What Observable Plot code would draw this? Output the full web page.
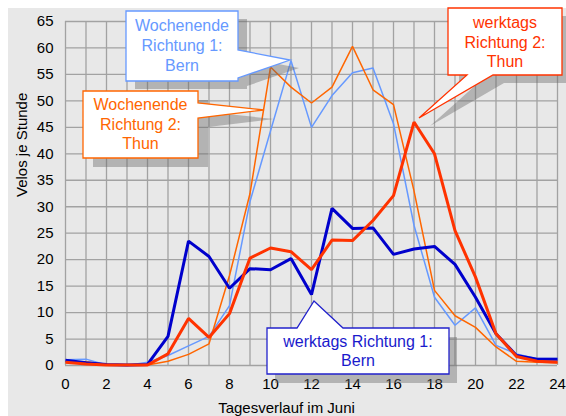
<!DOCTYPE html>
<html>
<head>
<meta charset="utf-8">
<script src="https://cdn.jsdelivr.net/npm/d3@7"></script>
<script src="https://cdn.jsdelivr.net/npm/@observablehq/plot@0.6"></script>
<style>
  html, body { margin: 0; padding: 0; background: #ffffff; }
  #chart { width: 566px; height: 416px; }
</style>
</head>
<body>
<div id="chart"></div>
<script>
// ---- data ----
const hours = [0,1,2,3,4,5,6,7,8,9,10,11,12,13,14,15,16,17,18,19,20,21,22,23,24];
const werktagsBern    = [1.0,0.5,0.2,0.1,0.2,5.5,23.5,20.6,14.6,18.3,18.1,20.2,13.4,29.7,25.9,26.0,21.0,22.0,22.5,19.1,12.9,6.0,1.9,1.2,1.2];
const werktagsThun    = [0.6,0.3,0.1,0.1,0.1,2.2,8.9,5.3,9.8,20.3,22.2,21.5,18.1,23.7,23.6,27.4,32.1,46.0,40.0,25.5,16.7,6.0,1.7,0.8,0.6];
const wochenendeBern  = [1.1,1.2,0.1,0.0,0.6,1.9,3.7,5.5,11.3,31.0,44.3,57.6,45.0,51.0,55.3,56.2,45.7,26.5,12.9,7.6,10.9,3.8,2.2,1.3,1.3];
const wochenendeThun  = [0.6,0.7,0.2,0.1,0.1,0.8,2.1,4.1,17.0,32.5,56.4,52.6,49.6,52.6,60.3,52.1,49.3,33.0,14.2,9.4,7.2,3.5,0.8,0.6,0.5];
const xTicks = [0,2,4,6,8,10,12,14,16,18,20,22,24];
const yTicks = [0,5,10,15,20,25,30,35,40,45,50,55,60,65];
const xTitle = "Tagesverlauf im Juni";
const yTitle = "Velos je Stunde";

// ---- styles ----
const FONT = "'Liberation Sans', Arial, Helvetica, sans-serif";
const seriesStyles = [
  {values: wochenendeBern, stroke: "#6699ff", width: 1.5},
  {values: wochenendeThun, stroke: "#ff6600", width: 1.5},
  {values: werktagsBern,   stroke: "#0000cc", width: 3},
  {values: werktagsThun,   stroke: "#ff3300", width: 3}
];
const toRows = (arr) => hours.map((h, i) => ({hour: h, value: arr[i]}));

const plot = Plot.plot({
  width: 566,
  height: 416,
  marginLeft: 65,
  marginRight: 9,
  marginTop: 21,
  marginBottom: 51,
  style: `background: linear-gradient(#fff,#fff) top left / 100% 8px no-repeat, linear-gradient(#fff,#fff) top left / 8px 100% no-repeat, #e8e8e8; font-family: ${FONT}; font-size: 15px; color: #000; overflow: visible;`,
  x: {domain: [0, 24]},
  y: {domain: [0, 65]},
  marks: [
    Plot.gridX(hours, {stroke: "#a2a2a2", strokeOpacity: 1, strokeWidth: 1.3}),
    Plot.gridY(yTicks, {stroke: "#a2a2a2", strokeOpacity: 1, strokeWidth: 1.3}),
    Plot.axisX({ticks: xTicks, tickSize: 0, tickPadding: 13, label: null, fontSize: 15}),
    Plot.axisY({ticks: yTicks, tickSize: 0, tickPadding: 12, label: null, fontSize: 15}),
    ...seriesStyles.map(s => Plot.line(toRows(s.values), {
      x: "hour", y: "value", stroke: s.stroke, strokeWidth: s.width,
      strokeLinejoin: "miter", strokeLinecap: "butt"
    })),
    Plot.text([xTitle], {frameAnchor: "bottom", dx: -25, dy: 47, fontSize: 15, fill: "#000"}),
    Plot.text([yTitle], {frameAnchor: "left", rotate: -90, dx: -43, dy: 3.5, fontSize: 15, fill: "#000"})
  ]
});
document.getElementById("chart").appendChild(plot);

// ---- callout annotations (pixel layout) ----
const callouts = [
  {lines: ["Wochenende", "Richtung 1:", "Bern"], color: "#6699ff", text: "#6699ff",
   box: [126, 11, 238, 81], side: "right", base: [50, 78], tip: [290, 60],
   cx: 182, baselines: [30.5, 50.5, 70.5], shadow: [9, 8]},
  {lines: ["Wochenende", "Richtung 2:", "Thun"], color: "#ff6600", text: "#ff6600",
   box: [83, 91, 198, 158], side: "right", base: [103, 118], tip: [264, 110],
   cx: 140.5, baselines: [110, 129.5, 149], shadow: [10, 9]},
  {lines: ["werktags", "Richtung 2:", "Thun"], color: "#ff3300", text: "#ff3300",
   box: [448, 8, 562, 75], side: "bottom", base: [467, 493], tip: [419, 118],
   cx: 505, baselines: [27.5, 47.5, 67], shadow: [11, 8]},
  {lines: ["werktags Richtung 1:", "Bern"], color: "#2222cc", text: "#1a1acc",
   box: [267, 328, 449, 374], side: "top", base: [297, 343], tip: [314, 301],
   cx: 358, baselines: [347, 366], shadow: [8, 9]}
];

function calloutPath(c, dx = 0, dy = 0) {
  const [x0, y0, x1, y1] = c.box.map((v, i) => v + (i % 2 ? dy : dx));
  const [a, b] = c.side === "right" ? [c.base[0] + dy, c.base[1] + dy] : [c.base[0] + dx, c.base[1] + dx];
  const [tx, ty] = [c.tip[0] + dx, c.tip[1] + dy];
  let p;
  if (c.side === "right") p = [[x0,y0],[x1,y0],[x1,a],[tx,ty],[x1,b],[x1,y1],[x0,y1]];
  else if (c.side === "bottom") p = [[x0,y0],[x1,y0],[x1,y1],[b,y1],[tx,ty],[a,y1],[x0,y1]];
  else p = [[x0,y0],[a,y0],[tx,ty],[b,y0],[x1,y0],[x1,y1],[x0,y1]];
  return "M" + p.map(q => q.join(",")).join("L") + "Z";
}

const svg = d3.select(plot);
const g = svg.append("g").attr("class", "callouts");
for (const c of callouts) {
  g.append("path").attr("d", calloutPath(c, c.shadow[0], c.shadow[1]))
    .attr("fill", "#6a6a6a").attr("fill-opacity", 0.42).attr("stroke", "none");
}
for (const c of callouts) {
  g.append("path").attr("d", calloutPath(c))
    .attr("fill", "#ffffff").attr("stroke", c.color).attr("stroke-width", 1.3)
    .attr("stroke-linejoin", "miter");
  c.lines.forEach((t, i) => {
    g.append("text").attr("x", c.cx).attr("y", c.baselines[i])
      .attr("text-anchor", "middle").attr("fill", c.text)
      .attr("font-family", FONT).attr("font-size", 16).text(t);
  });
}
</script>
</body>
</html>
